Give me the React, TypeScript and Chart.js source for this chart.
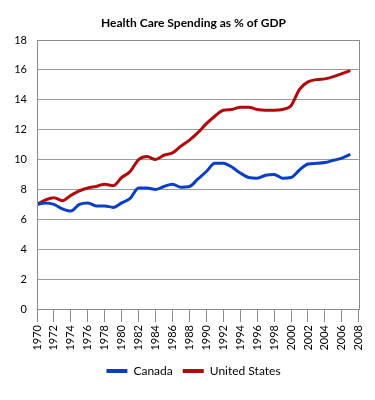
import React, { useEffect, useRef } from "react";
import { Chart, registerables } from "chart.js";

Chart.register(...registerables);

const years = [
  1970, 1971, 1972, 1973, 1974, 1975, 1976, 1977, 1978, 1979,
  1980, 1981, 1982, 1983, 1984, 1985, 1986, 1987, 1988, 1989,
  1990, 1991, 1992, 1993, 1994, 1995, 1996, 1997, 1998, 1999,
  2000, 2001, 2002, 2003, 2004, 2005, 2006, 2007,
];

const canada = [
  7.0, 7.1, 7.0, 6.7, 6.55, 7.0, 7.1, 6.9, 6.9, 6.8,
  7.1, 7.4, 8.1, 8.1, 8.0, 8.2, 8.35, 8.15, 8.2, 8.7,
  9.2, 9.75, 9.75, 9.5, 9.1, 8.8, 8.75, 8.95, 9.0, 8.75,
  8.8, 9.3, 9.7, 9.75, 9.8, 9.95, 10.1, 10.35,
];

const unitedStates = [
  7.0, 7.3, 7.45, 7.25, 7.6, 7.9, 8.1, 8.2, 8.35, 8.25,
  8.8, 9.2, 10.0, 10.2, 10.0, 10.3, 10.45, 10.9, 11.3, 11.8,
  12.4, 12.9, 13.3, 13.35, 13.5, 13.5, 13.35, 13.3, 13.3, 13.35,
  13.6, 14.7, 15.2, 15.35, 15.4, 15.55, 15.75, 15.95,
];

const seriesNames = ["Canada", "United States"];
const title = "Health Care Spending as % of GDP";

const FONT = "Lato, 'Open Sans', sans-serif";

const boxPlugin = {
  id: "plotBox",
  afterDraw(chart: any) {
    const { ctx, chartArea } = chart;
    ctx.save();
    ctx.strokeStyle = "#8a8a8a";
    ctx.lineWidth = 1;
    ctx.strokeRect(
      Math.round(chartArea.left) + 0.5,
      Math.round(chartArea.top) + 0.5,
      Math.round(chartArea.right - chartArea.left),
      Math.round(chartArea.bottom - chartArea.top)
    );
    ctx.restore();
  },
};

export default function App() {
  const ref = useRef<HTMLCanvasElement | null>(null);

  useEffect(() => {
    document.body.style.margin = "0";
    const canvas = ref.current;
    if (!canvas) return;
    const chart = new Chart(canvas, {
      type: "line",
      data: {
        datasets: [
          {
            label: seriesNames[0],
            data: years.map((y, i) => ({ x: y, y: canada[i] })),
            borderColor: "#0a3ec4",
            backgroundColor: "#0a3ec4",
            borderWidth: 3,
            pointRadius: 0,
            tension: 0.4,
            cubicInterpolationMode: "monotone",
          },
          {
            label: seriesNames[1],
            data: years.map((y, i) => ({ x: y, y: unitedStates[i] })),
            borderColor: "#b00a0a",
            backgroundColor: "#b00a0a",
            borderWidth: 3,
            pointRadius: 0,
            tension: 0.4,
            cubicInterpolationMode: "monotone",
          },
        ],
      },
      options: {
        animation: false,
        responsive: false,
        maintainAspectRatio: false,
        layout: { padding: { left: 13, right: 1, top: 0, bottom: 13 } },
        plugins: {
          title: {
            display: true,
            text: title,
            color: "#000",
            font: { family: FONT, size: 12, weight: "bold" },
            padding: { top: 16, bottom: 9.6 },
          },
          legend: {
            position: "bottom",
            labels: {
              color: "#000",
              font: { family: FONT, size: 12 },
              boxWidth: 21,
              boxHeight: 4,
              padding: 10,
              generateLabels: (ch: any) =>
                Chart.defaults.plugins.legend.labels
                  .generateLabels(ch)
                  .map((l: any) => ({ ...l, lineWidth: 0, strokeStyle: "transparent" })),
            },
          },
          tooltip: { enabled: false },
        },
        scales: {
          x: {
            type: "linear",
            min: 1970,
            max: 2008,
            afterFit: (s: any) => {
              s.height = 46;
            },
            grid: {
              drawOnChartArea: false,
              drawTicks: true,
              tickLength: 13,
              color: "#8a8a8a",
            },
            border: { display: true, color: "#8a8a8a" },
            ticks: {
              stepSize: 2,
              minRotation: 90,
              maxRotation: 90,
              padding: 3,
              autoSkip: false,
              color: "#000",
              font: { family: FONT, size: 11 },
              callback: (v: any) => String(v),
            },
          },
          y: {
            min: 0,
            max: 18,
            afterFit: (s: any) => {
              s.width = 24;
            },
            grid: { drawTicks: false, color: "#9a9a9a" },
            border: { display: true, color: "#8a8a8a" },
            ticks: {
              stepSize: 2,
              padding: 10,
              color: "#000",
              font: { family: FONT, size: 11 },
            },
          },
          yRight: {
            position: "right",
            min: 0,
            max: 18,
            afterFit: (s: any) => {
              s.width = 13;
            },
            grid: { display: false, drawTicks: false },
            border: { display: false },
            ticks: { display: false },
          },
        },
      },
      plugins: [boxPlugin],
    } as any);
    return () => chart.destroy();
  }, []);

  return (
    <div style={{ width: 375, height: 400 }}>
      <canvas ref={ref} width={375} height={400} style={{ display: "block" }} />
    </div>
  );
}
